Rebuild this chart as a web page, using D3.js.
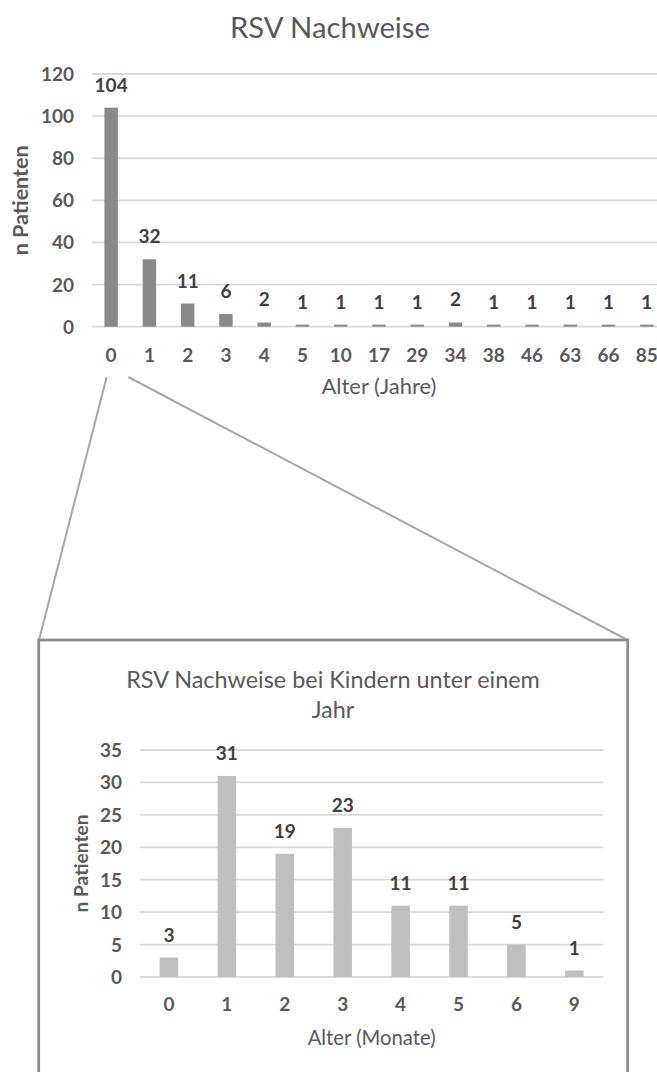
<!DOCTYPE html>
<html>
<head>
<meta charset="utf-8">
<script src="https://cdn.jsdelivr.net/npm/d3@7"></script>
<style>
  html, body { margin: 0; padding: 0; background: #fff; }
  svg { display: block; font-family: Lato, "Open Sans", sans-serif; }
</style>
</head>
<body>
<svg id="chart" width="657" height="1072"></svg>
<script>
// ---- data ----
const yearCategories = ["0","1","2","3","4","5","10","17","29","34","38","46","63","66","85"];
const yearCounts     = [104, 32, 11, 6, 2, 1, 1, 1, 1, 2, 1, 1, 1, 1, 1];
const yearTicks      = [0, 20, 40, 60, 80, 100, 120];

const monthCategories = ["0","1","2","3","4","5","6","9"];
const monthCounts     = [3, 31, 19, 23, 11, 11, 5, 1];
const monthTicks      = [0, 5, 10, 15, 20, 25, 30, 35];

const mainTitle   = "RSV Nachweise";
const subTitle    = ["RSV Nachweise bei Kindern unter einem", "Jahr"];
const yTitle      = "n Patienten";
const xTitleYears = "Alter (Jahre)";
const xTitleMonths = "Alter (Monate)";

// ---- helpers ----
const svg = d3.select("#chart");
const TICK = "#595959", LABEL = "#404040", GRID = "#d9d9d9";

function fitWidth(sel, target) {
  const w = sel.node().getComputedTextLength();
  const fs = parseFloat(sel.attr("font-size"));
  const nfs = fs * target / w;
  sel.attr("font-size", nfs.toFixed(2));
  return nfs;
}

function drawChart(cfg) {
  const g = svg.append("g");
  const x = d3.scaleBand().domain(cfg.cats).range(cfg.xRange)
    .paddingInner(cfg.pad).paddingOuter(cfg.pad / 2);
  const y = d3.scaleLinear().domain(cfg.yDomain).range(cfg.yRange);

  // gridlines
  g.append("g").selectAll("line").data(cfg.ticks).join("line")
    .attr("x1", cfg.gridX[0]).attr("x2", cfg.gridX[1])
    .attr("y1", d => y(d)).attr("y2", d => y(d))
    .attr("stroke", GRID).attr("stroke-width", 1.8);

  // y tick labels
  g.append("g").selectAll("text").data(cfg.ticks).join("text")
    .attr("x", cfg.gridX[0] - 18).attr("y", d => y(d) + 7)
    .attr("text-anchor", "end").attr("font-size", 19).attr("font-weight", 700)
    .attr("fill", TICK).text(d => d);

  // bars
  const data = cfg.cats.map((c, i) => ({c, v: cfg.vals[i]}));
  g.append("g").selectAll("rect").data(data).join("rect")
    .attr("x", d => x(d.c)).attr("width", x.bandwidth())
    .attr("y", d => y(d.v)).attr("height", d => y(0) - y(d.v))
    .attr("fill", cfg.color);

  // value labels
  g.append("g").selectAll("text").data(data).join("text")
    .attr("x", d => x(d.c) + x.bandwidth() / 2).attr("y", d => y(d.v) - 16)
    .attr("text-anchor", "middle").attr("font-size", 19).attr("font-weight", 700)
    .attr("fill", LABEL).text(d => d.v);

  // x tick labels
  g.append("g").selectAll("text").data(cfg.cats).join("text")
    .attr("x", d => x(d) + x.bandwidth() / 2).attr("y", cfg.xTickY)
    .attr("text-anchor", "middle").attr("font-size", 19).attr("font-weight", 700)
    .attr("fill", TICK).text(d => d);

  // x title
  const xt = g.append("text")
    .attr("x", (cfg.xRange[0] + cfg.xRange[1]) / 2).attr("y", cfg.xTitleY)
    .attr("text-anchor", "middle").attr("font-size", 18).attr("fill", TICK)
    .text(cfg.xTitle);
  fitWidth(xt, cfg.xTitleW);

  // y title
  const yc = (cfg.yRange[0] + cfg.yRange[1]) / 2;
  const yt = g.append("text")
    .attr("transform", `translate(${cfg.yTitleX},${yc}) rotate(-90)`)
    .attr("text-anchor", "middle").attr("font-size", 18).attr("font-weight", 700)
    .attr("fill", TICK).text(yTitle);
  fitWidth(yt, cfg.yTitleW);
  return x;
}

// ---- top chart ----
drawChart({
  cats: yearCategories, vals: yearCounts, ticks: yearTicks,
  xRange: [92, 666], pad: 0.65, yDomain: [0, 120], yRange: [326.7, 74],
  gridX: [92, 666], color: "#898989", xTickY: 362,
  xTitle: xTitleYears, xTitleY: 394, xTitleW: 115,
  yTitleX: 28, yTitleW: 110
});

const t1 = svg.append("text").attr("x", 330).attr("y", 38)
  .attr("text-anchor", "middle").attr("font-size", 26).attr("fill", TICK)
  .text(mainTitle);
fitWidth(t1, 200);

// ---- zoom connector ----
const conn = svg.append("g").attr("stroke", "#a6a6a6").attr("stroke-width", 2).attr("fill", "none");
conn.append("line").attr("x1", 106.7).attr("y1", 377).attr("x2", 39).attr("y2", 640);
conn.append("line").attr("x1", 128.3).attr("y1", 377).attr("x2", 627.5).attr("y2", 640);

svg.append("rect").attr("x", 38.7).attr("y", 640).attr("width", 589).attr("height", 460)
  .attr("fill", "#fff").attr("stroke", "#8c8c8c").attr("stroke-width", 2.8);

// ---- bottom chart ----
drawChart({
  cats: monthCategories, vals: monthCounts, ticks: monthTicks,
  xRange: [140, 603.3], pad: 0.68, yDomain: [0, 35], yRange: [977, 750],
  gridX: [140, 603.3], color: "#bfbfbf", xTickY: 1011,
  xTitle: xTitleMonths, xTitleY: 1045, xTitleW: 128,
  yTitleX: 88, yTitleW: 98
});

let subSize = 21;
subTitle.forEach((s, i) => {
  const t = svg.append("text").attr("x", 333).attr("y", 688 + i * 30)
    .attr("text-anchor", "middle").attr("font-size", subSize).attr("fill", TICK).text(s);
  if (i === 0) subSize = fitWidth(t, 414);
});
</script>
</body>
</html>
